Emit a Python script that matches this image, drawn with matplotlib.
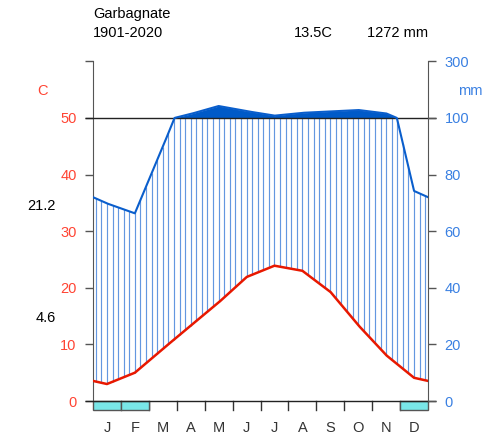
import numpy as np
import matplotlib
matplotlib.use("Agg")
import matplotlib.pyplot as plt
from matplotlib.patches import Rectangle

plt.rcParams['font.family'] = ['Liberation Sans', 'DejaVu Sans']

station = "Garbagnate"
period = "1901-2020"
months = ["J", "F", "M", "A", "M", "J", "J", "A", "S", "O", "N", "D"]
temp = [3.0, 5.0, 9.2, 13.3, 17.4, 21.9, 23.9, 23.0, 19.3, 13.4, 8.1, 4.1]
prec = [69.8, 66.3, 89.8, 114, 142, 124, 108, 118, 123, 128, 116, 74.2]
frost_months = [0, 1, 11]
abs_max = "21.2"
abs_min = "4.6"
mean_temp = "13.5C"
total_prec = "1272 mm"

PCOL = '#005ac8'
TCOL = '#e81800'
GRAY = '#555555'


def scale_prec(p):
    # 20 mm per 10 C up to 100 mm, then 200 mm per 10 C
    p = np.asarray(p, dtype=float)
    return np.where(p <= 100, p / 2.0, 50 + (p - 100) / 20.0)


def wrap(v):
    return np.r_[v[-1], v, v[0]]


def main():
    xm = np.arange(-0.5, 12.6, 1.0)
    tw = wrap(temp)
    pw = wrap(prec)

    xf = np.linspace(0, 12, 1201)
    tf = np.interp(xf, xm, tw)
    pf = scale_prec(np.interp(xf, xm, pw))

    fig = plt.figure(figsize=(4.92, 4.42), dpi=100)
    ax = fig.add_axes([0.189, 0.0543, 0.681, 0.807])
    ax.set_xlim(0, 12)
    ax.set_ylim(-3, 60)

    # hatching of the humid period
    xh = np.arange(0.1, 12, 0.2)
    th = np.interp(xh, xm, tw)
    ph = scale_prec(np.interp(xh, xm, pw))
    top = np.minimum(ph, 50)
    m = top > th
    ax.vlines(xh[m], th[m], top[m], color='#2f74d6', lw=0.85, alpha=0.75)

    # precipitation above 100 mm
    ax.fill_between(xf, 50, pf, where=pf > 50, color=PCOL, lw=0)

    ax.hlines([0, 50], -0.29, 12.29, color='#222222', lw=1.0, clip_on=False, zorder=4)

    ax.plot(xf, pf, color='#0a5ecc', lw=1.5, zorder=5)
    ax.plot(xf, tf, color=TCOL, lw=1.8, zorder=6)

    # frost boxes and month ticks
    for i in range(1, 12):
        ax.plot([i, i], [0, -1.65], color='#333333', lw=1.0, clip_on=False)
    for i in frost_months:
        ax.add_patch(Rectangle((i, -1.65), 1, 1.65, fc='#79e6e8', ec=GRAY,
                               lw=1.0, clip_on=False, zorder=3))
    for i, mth in enumerate(months):
        ax.text(i + 0.5, -4.8, mth, ha='center', va='center', fontsize=10.5,
                color='#333333')

    for s in ['top', 'bottom', 'right']:
        ax.spines[s].set_visible(False)
    ax.spines['left'].set_bounds(0, 60)
    ax.spines['left'].set_color(GRAY)
    ax.set_xticks([])
    ax.set_yticks(range(0, 61, 10))
    ax.set_yticklabels(['0', '10', '20', '30', '40', '50', ''])
    ax.tick_params(axis='y', length=5.8, width=1.0, color=GRAY, pad=6,
                   labelsize=10.5, labelcolor='#ff4433')

    ax2 = ax.twinx()
    ax2.set_position(ax.get_position())
    ax2.set_ylim(-3, 60)
    for s in ['top', 'bottom', 'left']:
        ax2.spines[s].set_visible(False)
    ax2.spines['right'].set_bounds(0, 60)
    ax2.spines['right'].set_color(GRAY)
    ax2.set_yticks(range(0, 61, 10))
    ax2.set_yticklabels(['0', '20', '40', '60', '80', '100', '300'])
    ax2.tick_params(axis='y', length=5.8, width=1.0, color=GRAY, pad=6,
                    labelsize=10.5, labelcolor='#3a80e2')

    fs = 10.5
    fig.text(93 / 492, 1 - 14 / 442, station, ha='left', va='center', fontsize=fs)
    fig.text(93 / 492, 1 - 33 / 442, period, ha='left', va='center', fontsize=fs)
    fig.text(313 / 492, 1 - 33 / 442, mean_temp, ha='center', va='center', fontsize=fs)
    fig.text(428 / 492, 1 - 33 / 442, total_prec, ha='right', va='center', fontsize=fs)
    fig.text(43 / 492, 1 - 91 / 442, "C", ha='center', va='center', fontsize=fs,
             color='#ff4433')
    fig.text(470 / 492, 1 - 91 / 442, "mm", ha='center', va='center', fontsize=fs,
             color='#3a80e2')
    fig.text(56 / 492, 1 - 206 / 442, abs_max, ha='right', va='center', fontsize=fs)
    fig.text(56 / 492, 1 - 318 / 442, abs_min, ha='right', va='center', fontsize=fs)

    fig.savefig("out.png", dpi=100, facecolor='white')


if __name__ == "__main__":
    main()
